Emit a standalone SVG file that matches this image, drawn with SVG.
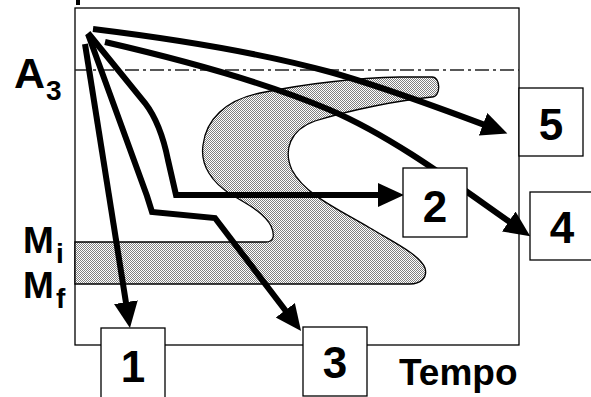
<svg xmlns="http://www.w3.org/2000/svg" width="591" height="397" viewBox="0 0 591 397">
<defs>
<style>
.frame{fill:none;stroke:#000;stroke-width:1.3}
.box{fill:#fff;stroke:#000;stroke-width:1.3}
.num{font-family:"Liberation Sans",Arial,sans-serif;font-weight:bold;font-size:44px;text-anchor:middle;fill:#000}
.lbl{font-family:"Liberation Sans",Arial,sans-serif;font-weight:bold;fill:#000}
.curve{fill:none;stroke:#000;stroke-width:6;stroke-linejoin:miter;stroke-linecap:butt}
.region{fill:url(#hatch);stroke:#000;stroke-width:1.3}
</style>
<pattern id="hatch" patternUnits="userSpaceOnUse" width="2" height="2">
<rect width="2" height="2" fill="#ffffff"/>
<rect width="1" height="1" fill="#808080"/>
<rect x="1" y="1" width="1" height="1" fill="#808080"/>
</pattern>
<marker id="head" markerUnits="userSpaceOnUse" markerWidth="27" markerHeight="25" refX="16" refY="12" orient="auto">
<path d="M0,0 L26,12 L0,24 Z" fill="#000"/>
</marker>
</defs>
<rect width="591" height="397" fill="#fff"/>
<rect x="76" y="0" width="4" height="5" fill="#000"/>
<rect class="frame" x="75" y="8" width="444" height="337"/>
<line x1="75" y1="70" x2="519" y2="70" stroke="#222" stroke-width="1.4" stroke-dasharray="14 4 3 4"/>
<path id="transformation-region" class="region" d="M75,242 L266,242 C274,242 275,235 271,226 C264,212 245,203 232,195 C212,183 200,165 203,145 C206,120 225,100 260,93 C300,85 350,78 400,77 L432,77 C441,77 441,97 432,97 C400,100 350,110 315,121 C290,130 283,150 292,170 C305,195 340,210 370,228 C395,243 420,255 425,268 C428,278 420,284 410,284 L75,284 Z"/>
<g id="connectors">
<path class="curve" d="M85,44 L128.4,318" marker-end="url(#head)"/>
<path class="curve" d="M88,33 L145,103 C158,120 164,140 168,160 L176,195 L394,195" marker-end="url(#head)"/>
<path class="curve" d="M88,34 L147,196 L152,212 L215,218 L295,323" marker-end="url(#head)"/>
<path class="curve" d="M105,42 C170,57 260,80 330,110 C400,140 470,195 522,230.5" marker-end="url(#head)"/>
<path class="curve" d="M93,29 C150,36 250,50 330,72 C380,86 440,108 498,130" marker-end="url(#head)"/>
</g>
<g id="box1"><rect class="box" x="101" y="328" width="64" height="75"/><text class="num" x="133" y="382">1</text></g>
<g id="box2"><rect class="box" x="403" y="168" width="64" height="69"/><text class="num" x="435" y="222">2</text></g>
<g id="box3"><rect class="box" x="303" y="327" width="64" height="69"/><text class="num" x="335" y="378">3</text></g>
<g id="box4"><rect class="box" x="530" y="192" width="64" height="68"/><text class="num" x="562" y="243">4</text></g>
<g id="box5"><rect class="box" x="519" y="88" width="64" height="68"/><text class="num" x="551" y="140">5</text></g>
<g id="label-A3"><text class="lbl" x="14" y="88" font-size="43">A<tspan x="46" y="100" font-size="28">3</tspan></text></g>
<g id="label-Mi"><text class="lbl" x="23" y="253" font-size="37">M<tspan x="56" y="263" font-size="28">i</tspan></text></g>
<g id="label-Mf"><text class="lbl" x="23" y="298" font-size="37">M<tspan x="56" y="308" font-size="28">f</tspan></text></g>
<g id="label-tempo"><text class="lbl" x="399" y="385" font-size="37">Tempo</text></g>
</svg>
